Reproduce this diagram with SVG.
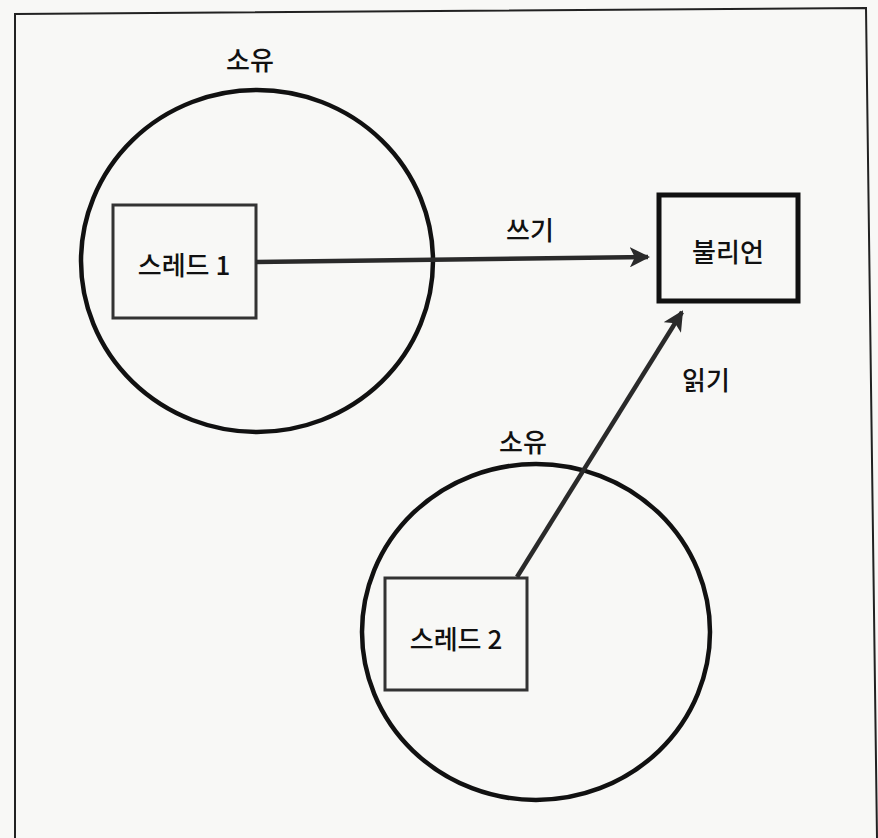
<svg xmlns="http://www.w3.org/2000/svg" width="878" height="838" viewBox="0 0 878 838">
<defs>
<style>
.lbl{font-family:"Noto Sans CJK KR","Noto Sans",sans-serif;font-size:26px;font-weight:500;fill:#111;text-anchor:middle;dominant-baseline:central}
.own{fill:none;stroke:#111;stroke-width:4.5}
.box{fill:none;stroke:#333;stroke-width:3}
.conn{stroke:#2a2a2a;stroke-width:4.5;fill:none}
</style>
<marker id="ah" viewBox="0 0 10 10" refX="9" refY="5" markerWidth="4.5" markerHeight="4.5" orient="auto" markerUnits="strokeWidth">
<path d="M0,0 L10,5 L0,10 L2.5,5 Z" fill="#2a2a2a"/>
</marker>
</defs>
<rect width="878" height="838" fill="#f8f8f6"/>
<path d="M15,838 L15,14 L866,8 L877,838" fill="none" stroke="#222" stroke-width="2"/>
<g id="owner1">
<ellipse class="own" cx="257" cy="261" rx="176" ry="171"/>
<text class="lbl" x="250" y="58">소유</text>
</g>
<g id="thread1">
<rect class="box" x="113" y="205" width="143" height="113"/>
<text class="lbl" x="184" y="263">스레드 1</text>
</g>
<g id="owner2">
<ellipse class="own" cx="536" cy="632" rx="174" ry="168"/>
<text class="lbl" x="523" y="440">소유</text>
</g>
<g id="thread2">
<rect class="box" x="385" y="578" width="142" height="112"/>
<text class="lbl" x="456" y="637">스레드 2</text>
</g>
<g id="boolean">
<rect x="659" y="195" width="139" height="106" fill="none" stroke="#111" stroke-width="5"/>
<text class="lbl" x="728" y="250">불리언</text>
</g>
<g id="connectors">
<line class="conn" x1="256" y1="262" x2="648" y2="257" marker-end="url(#ah)"/>
<text class="lbl" x="530" y="228">쓰기</text>
<line class="conn" x1="517" y1="577" x2="682" y2="312" marker-end="url(#ah)"/>
<text class="lbl" x="706" y="378">읽기</text>
</g>
</svg>
